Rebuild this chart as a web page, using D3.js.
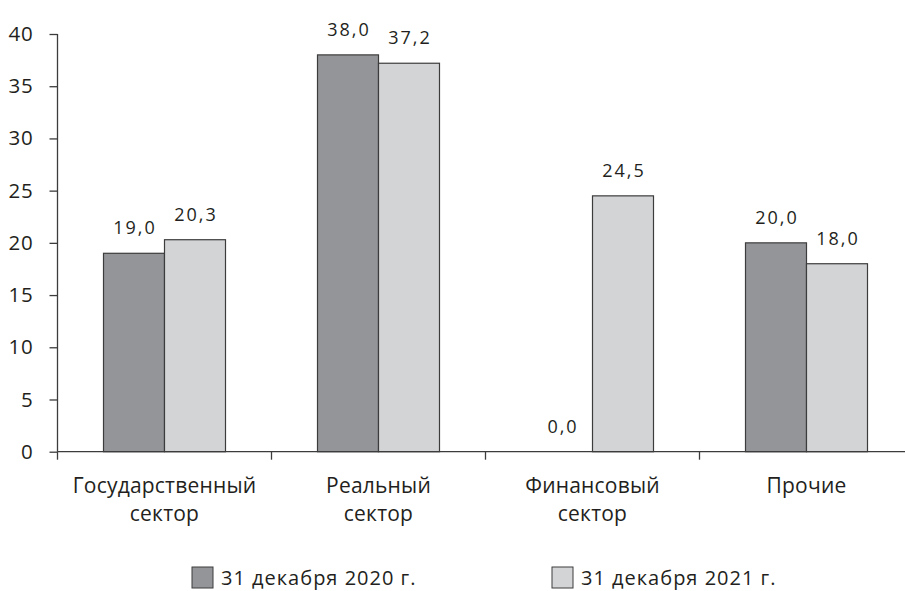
<!DOCTYPE html>
<html>
<head>
<meta charset="utf-8">
<script src="https://cdn.jsdelivr.net/npm/d3@7"></script>
<style>
  html, body { margin: 0; padding: 0; background: #fff; }
  svg { display: block; }
  text { font-family: "Open Sans", sans-serif; fill: #231f20; }
</style>
</head>
<body>
<svg id="chart" width="905" height="591"></svg>
<script>
// Structure of the portfolio by sector, %
const categories = [
  ["Государственный", "сектор"],
  ["Реальный", "сектор"],
  ["Финансовый", "сектор"],
  ["Прочие"]
];
const seriesNames = ["31 декабря 2020 г.", "31 декабря 2021 г."];
const values2020 = [19.0, 38.0, 0.0, 20.0];
const values2021 = [20.3, 37.2, 24.5, 18.0];
const yTicks = [0, 5, 10, 15, 20, 25, 30, 35, 40];

const colors = ["#939598", "#d3d4d6"];
const stroke = "#3c3c3c";

const svg = d3.select("#chart");
const plotLeft = 57.5, plotBottom = 451.7, plotTop = 34, bandW = 214;
const catKeys = categories.map(c => c.join(" "));

const x0 = d3.scaleBand().domain(catKeys).range([plotLeft, plotLeft + bandW * 4]).padding(0);
const x1 = d3.scaleBand().domain(seriesNames).range([(bandW - 122) / 2, (bandW + 122) / 2]).padding(0);
const y = d3.scaleLinear().domain([0, 40]).range([plotBottom, plotTop]);

const ru = d3.formatLocale({ decimal: ",", thousands: " ", grouping: [3], currency: ["", ""] });
const fmt = ru.format(".1f");

// Y axis
const yAxis = svg.append("g")
  .attr("transform", `translate(${plotLeft},0)`)
  .call(d3.axisLeft(y).tickValues(yTicks).tickSize(8).tickPadding(16).tickFormat(d3.format("d")));
yAxis.select(".domain").attr("stroke", stroke).attr("stroke-width", 1.3).attr("d", `M0,${plotTop}V${plotBottom}`);
yAxis.selectAll(".tick line").attr("stroke", stroke).attr("stroke-width", 1.3);
yAxis.selectAll(".tick text")
  .attr("font-size", 20.5).attr("font-family", "Open Sans, sans-serif")
  .attr("fill", "#231f20").attr("letter-spacing", 0.8);

// Bars
const rows = catKeys.map((k, i) => ({ key: k, vals: [values2020[i], values2021[i]] }));
const groups = svg.append("g").selectAll("g").data(rows).join("g")
  .attr("transform", d => `translate(${x0(d.key)},0)`);

groups.selectAll("rect").data(d => d.vals.map((v, j) => ({ v, s: seriesNames[j], j })))
  .join("rect")
  .attr("x", d => x1(d.s))
  .attr("y", d => y(d.v))
  .attr("width", x1.bandwidth())
  .attr("height", d => plotBottom - y(d.v))
  .attr("fill", d => colors[d.j])
  .attr("stroke", stroke)
  .attr("stroke-width", 1.2);

// Value labels above bars
groups.selectAll("text.val").data(d => d.vals.map((v, j) => ({ v, s: seriesNames[j], j })))
  .join("text")
  .attr("class", "val")
  .attr("x", d => x1(d.s) + x1.bandwidth() / 2 + 1)
  .attr("y", d => y(d.v) - 19)
  .attr("text-anchor", "middle")
  .attr("font-size", 18)
  .attr("letter-spacing", 2)
  .text(d => fmt(d.v));

// X axis
const xAxis = svg.append("g");
xAxis.append("line")
  .attr("x1", plotLeft).attr("x2", 905).attr("y1", plotBottom).attr("y2", plotBottom)
  .attr("stroke", stroke).attr("stroke-width", 1.3);
xAxis.selectAll("line.tick").data(d3.range(0, 4)).join("line")
  .attr("class", "tick")
  .attr("x1", i => plotLeft + bandW * i).attr("x2", i => plotLeft + bandW * i)
  .attr("y1", plotBottom).attr("y2", plotBottom + 8)
  .attr("stroke", stroke).attr("stroke-width", 1.3);

const catLabels = svg.append("g").selectAll("text").data(categories).join("text")
  .attr("x", (d, i) => x0(catKeys[i]) + x0.bandwidth() / 2)
  .attr("y", 493)
  .attr("text-anchor", "middle")
  .attr("font-size", 21)
  .attr("letter-spacing", 0.2);
catLabels.selectAll("tspan").data(d => d).join("tspan")
  .attr("x", function () { return d3.select(this.parentNode).attr("x"); })
  .attr("dy", (d, i) => i === 0 ? 0 : 28)
  .text(d => d);

// Legend
const legendX = [192, 552];
const legend = svg.append("g").selectAll("g").data(seriesNames).join("g")
  .attr("transform", (d, i) => `translate(${legendX[i]},567)`);
legend.append("rect")
  .attr("width", 21).attr("height", 21)
  .attr("fill", (d, i) => colors[i])
  .attr("stroke", stroke).attr("stroke-width", 1);
legend.append("text")
  .attr("x", 29).attr("y", 18)
  .attr("font-size", 20)
  .attr("letter-spacing", 1)
  .text(d => d);
</script>
</body>
</html>
